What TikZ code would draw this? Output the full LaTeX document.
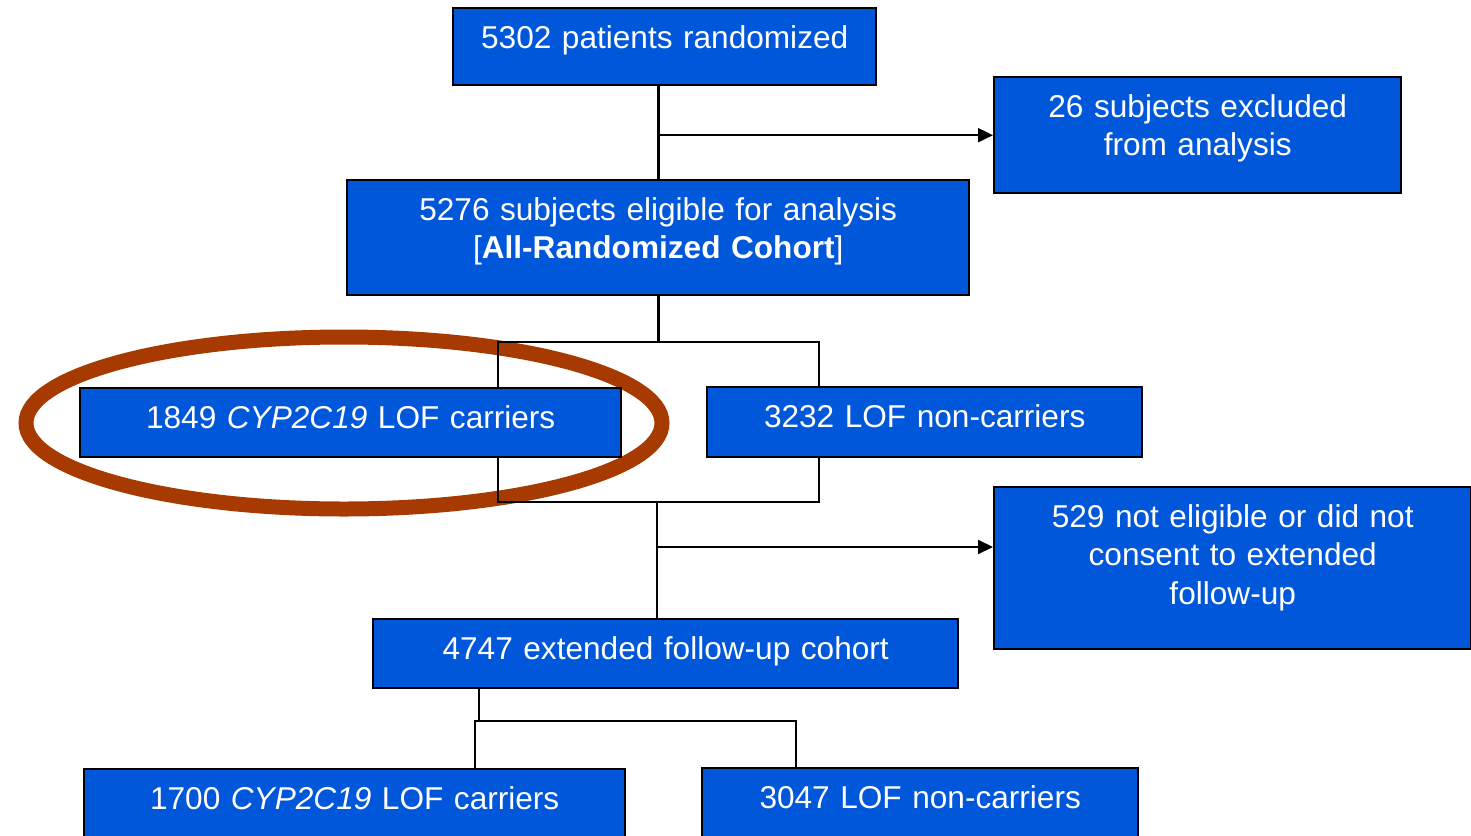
\documentclass[tikz,border=0pt]{standalone}
\usepackage{fontspec}
\setmainfont{Liberation Sans}
\usetikzlibrary{arrows.meta,positioning}
\definecolor{FlowBlue}{HTML}{0057D9}
\definecolor{Rust}{HTML}{A63A00}
\tikzset{
  flowbox/.style={draw=black,line width=1.2pt,fill=FlowBlue,text=white,inner sep=0pt,
    anchor=north west,align=center,text height=20pt,font=\fontsize{15.8pt}{19.25pt}\selectfont},
  link/.style={line width=1.4pt},
  feed/.style={line width=1pt,-{Triangle[length=7.5pt,width=7pt]}}
}

\begin{document}
\begin{tikzpicture}[x=0.5pt,y=-0.5pt]
  \useasboundingbox (0,0) rectangle (1471,835);
  % highlight round the first carrier group
  \draw[Rust,line width=7.5pt] (344,423) ellipse [x radius=159pt,y radius=43pt];

  \node[flowbox,text width=211.5pt,text depth=18.5pt] (rand) at (452,7) {5302 patients randomized};
  \node[flowbox,text width=203.5pt,text depth=38pt] (excl) at (993,76) {26 subjects excluded\\from analysis};
  \node[flowbox,text width=311pt,text depth=37.5pt] (elig) at (346,179) {5276 subjects eligible for analysis\\{[}\textbf{All-Randomized Cohort}]};
  \node[flowbox,text width=270.5pt,text depth=14.5pt] (carA) at (79,387) {1849 \textit{CYP2C19} LOF carriers};
  \node[flowbox,text width=217.5pt,text depth=15pt] (nonA) at (706,386) {3232 LOF non-carriers};
  \node[flowbox,text width=238.5pt,text depth=61pt] (noext) at (993,486) {529 not eligible or did not\\consent to extended\\follow-up};
  \node[flowbox,text width=292.5pt,text depth=14.5pt] (ext) at (372,618) {4747 extended follow-up cohort};
  \node[flowbox,text width=270.5pt,text depth=18.5pt] (carB) at (83,768) {1700 \textit{CYP2C19} LOF carriers};
  \node[flowbox,text width=218pt,text depth=18.5pt] (nonB) at (701,767) {3047 LOF non-carriers};

  \coordinate (splitL) at (498,342);
  \coordinate (splitR) at (819,342);
  \coordinate (joinL) at (498,502);
  \coordinate (joinR) at (819,502);
  \coordinate (join) at (657,502);
  \coordinate (tap) at (657,547);
  \coordinate (drop) at (479,721);
  \coordinate (forkL) at (475,721);
  \coordinate (forkR) at (796,721);

  \draw[link] (elig.north |- rand.south) -- (elig.north);
  \draw[feed] (elig.north |- excl.west) -- (excl.west);
  \draw[link] (elig.south) -- (elig.south |- splitL);
  \draw[link] (splitL |- carA.north) -- (splitL) -- (splitR) -- (splitR |- nonA.north);
  \draw[link] (joinL |- carA.south) -- (joinL) -- (joinR) -- (joinR |- nonA.south);
  \draw[link] (join) -- (join |- ext.north);
  \draw[feed] (tap) -- (tap -| noext.west);
  \draw[link] (drop |- ext.south) -- (drop);
  \draw[link] (forkL |- carB.north) -- (forkL) -- (forkR) -- (forkR |- nonB.north);
\end{tikzpicture}
\end{document}
